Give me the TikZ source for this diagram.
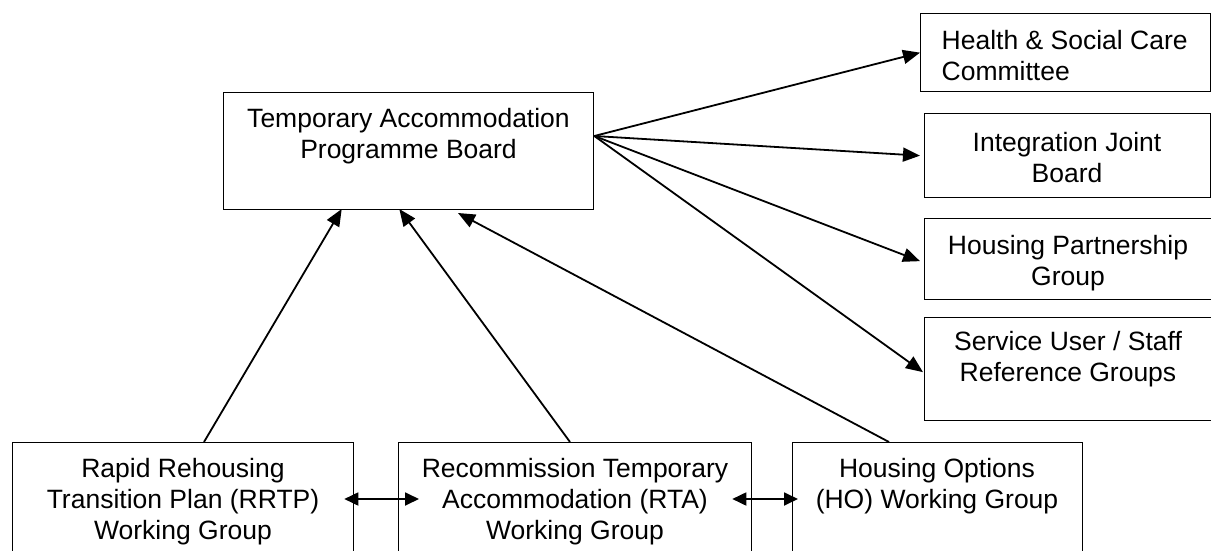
\documentclass[tikz,border=0pt]{standalone}
\usepackage{fontspec}
\setmainfont{Liberation Sans}
\usetikzlibrary{arrows.meta,calc}
\begin{document}
\begin{tikzpicture}[x=1pt,y=-1pt,
  box/.style={draw,line width=1.3pt,inner sep=0pt,anchor=north west},
  lbl/.style={inner sep=0pt,anchor=north,align=center,font=\fontsize{26.5}{30.7}\selectfont},
  conn/.style={line width=1.8pt,-{Triangle[length=17pt,width=14pt]}},
  both/.style={line width=1.8pt,{Triangle[length=14pt,width=13pt]}-{Triangle[length=14pt,width=13pt]}}]
\useasboundingbox (0,0) rectangle (1211,551);
% boxes
\node[box,minimum width=370pt,minimum height=117pt] (tapb) at (223,92) {};
\node[box,minimum width=290pt,minimum height=78pt] (hscc) at (920,13) {};
\node[box,minimum width=286pt,minimum height=84pt] (ijb) at (924,113) {};
\node[box,minimum width=288pt,minimum height=81pt] (hpg) at (924,218) {};
\node[box,minimum width=288pt,minimum height=103pt] (su) at (924,317) {};
\node[box,minimum width=341pt,minimum height=130pt] (rrtp) at (12,442) {};
\node[box,minimum width=353pt,minimum height=130pt] (rta) at (398,442) {};
\node[box,minimum width=290pt,minimum height=130pt] (ho) at (792,442) {};
% labels
\node[lbl] (tapbt) at (408.5,108) {Temporary Accommodation\\Programme Board};
\node[lbl,anchor=north west,align=left] (hsccT) at (941.5,30.5) {Health \& Social Care\\Committee};
\node[lbl] (ijbt) at (1067,132) {Integration Joint\\Board};
\node[lbl] (hpgt) at (1068,235.5) {Housing Partnership\\Group};
\node[lbl] (sut) at (1068,331.5) {Service User / Staff\\Reference Groups};
\node[lbl] (rrtpt) at (183,458.5) {Rapid Rehousing\\Transition Plan (RRTP)\\Working Group};
\node[lbl] (rtat) at (575,458.5) {Recommission Temporary\\Accommodation (RTA)\\Working Group};
\node[lbl] (hot) at (937,458.5) {Housing Options\\(HO) Working Group};
% connector anchors
\coordinate (fan) at ($(tapb.north east)+(0,44)$);
\coordinate (in1) at (341.7,209);
\coordinate (in2) at (399.3,209);
\coordinate (in3) at (458,213);
\coordinate (out1) at (204,442);
\coordinate (out2) at (570,442);
\coordinate (out3) at (889,442);
\coordinate (a1) at ($(rrtp.north east)+(-10,57)$);
\coordinate (b1) at ($(rta.north west)+(21,57)$);
\coordinate (a2) at ($(rta.north east)+(-20,57)$);
\coordinate (b2) at ($(ho.north west)+(6,57)$);
% connectors
\draw[conn] (fan) -- (hscc.west);
\draw[conn] (fan) -- ($(ijb.west)+(-4,0)$);
\draw[conn] (fan) -- ($(hpg.west)+(-4,2)$);
\draw[conn] (fan) -- ($(su.west)+(-1,3)$);
\draw[conn] (out1) -- (in1);
\draw[conn] (out2) -- (in2);
\draw[conn] (out3) -- (in3);
\draw[both] (a1) -- (b1);
\draw[both] (a2) -- (b2);
\end{tikzpicture}
\end{document}
